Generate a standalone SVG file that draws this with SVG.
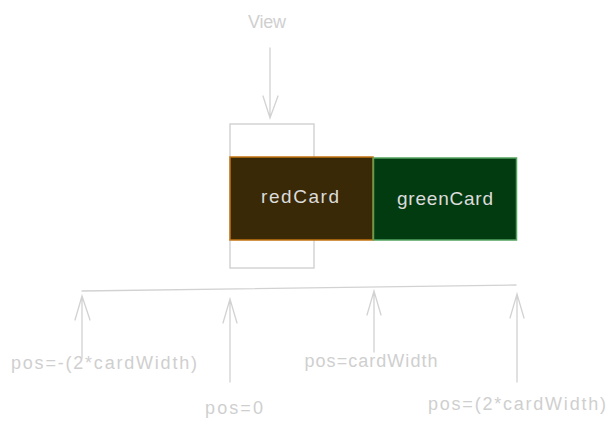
<svg xmlns="http://www.w3.org/2000/svg" width="616" height="430" viewBox="0 0 616 430">
<style>
.t{font-family:"Liberation Sans",Arial,sans-serif;font-size:18px;fill:#cfcfcf;text-anchor:middle}
.c{font-family:"Liberation Sans",Arial,sans-serif;font-size:19px;fill:#dcdcdc;text-anchor:middle}
.ln{stroke:#d2d2d2;stroke-width:1.3;fill:none;stroke-linecap:round}
</style>
<rect width="616" height="430" fill="#ffffff"/>
<g id="view">
<rect x="230" y="124" width="84" height="144" fill="none" stroke="#d4d4d4" stroke-width="1.5"/>
<text class="t" x="267" y="28" textLength="38">View</text>
</g>
<g id="redCard">
<rect x="230" y="157" width="143" height="83" fill="#3a2906" stroke="#c27411" stroke-width="1.5"/>
<text class="c" x="300" y="203" textLength="78">redCard</text>
</g>
<g id="greenCard">
<rect x="373.5" y="158" width="143" height="82" fill="#033b11" stroke="#52a35e" stroke-width="1.5"/>
<text class="c" x="445" y="205" textLength="96">greenCard</text>
</g>
<g id="labels">
<text class="t" x="104" y="369" textLength="186">pos=-(2*cardWidth)</text>
<text class="t" x="234" y="414" textLength="58">pos=0</text>
<text class="t" x="371" y="367" textLength="133">pos=cardWidth</text>
<text class="t" x="517" y="410" textLength="178">pos=(2*cardWidth)</text>
</g>
<g id="connectors" class="ln">
<path d="M270 48 L270 118 M263 96 L270 118 L278 96"/>
<path d="M82 291 L516 285"/>
<path d="M82 358 L82 296 M75 320 L82 296 L90 320"/>
<path d="M230 382 L230 299 M223 323 L230 299 L237 323"/>
<path d="M374 352 L374 291 M367 315 L374 291 L381 315"/>
<path d="M517 382 L517 294 M510 318 L517 294 L524 318"/>
</g>
</svg>
